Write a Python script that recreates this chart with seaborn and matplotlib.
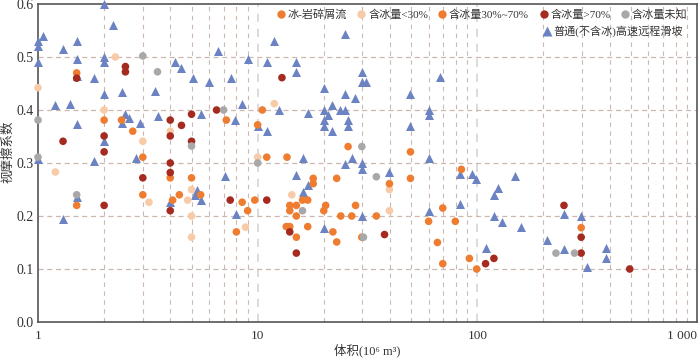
import numpy as np
import pandas as pd
import matplotlib
matplotlib.use('Agg')
import matplotlib.pyplot as plt
from matplotlib.lines import Line2D
from matplotlib.ticker import FixedLocator, LogLocator, NullFormatter
import seaborn as sns

# volume (10^6 m^3) and apparent friction coefficient
landslide_vol = [2.0, 2.2, 1.05, 1.0, 1.0, 1.0, 1.3, 1.5, 1.5, 1.5, 2.0, 2.0, 1.8, 1.2, 1.4, 1.5,
                 2.0, 2.4, 2.5, 2.6, 2.4, 2.9, 2.0, 1.8, 2.8, 1.0, 3.4, 3.5, 4.2, 4.5, 5.1, 6.0,
                 6.6, 7.6, 5.5, 7.9, 7.1, 1.5, 1.3, 4.0, 5.3, 5.2, 5.5, 8.0, 11.9, 24.9, 9.0,
                 11.0, 14.9, 14.9, 29.8, 29.8, 31, 20, 24.9, 27.8, 49.6, 67.4, 8.5, 12.5, 10,
                 11, 16.9, 20, 20, 20, 20.9, 21.9, 21.9, 23.8, 24.9, 25.9, 25.9, 49.6, 60, 60,
                 16, 26.8, 24.9, 29.8, 29.8, 60, 14.9, 39.8, 16.9, 83.4, 95, 99, 149, 124, 119,
                 83.7, 119, 129, 158, 208, 248, 297, 248, 316, 386, 386, 109.5, 16, 20, 29.8, 60.5]
landslide_mu = [0.60, 0.56, 0.54, 0.53, 0.52, 0.49, 0.515, 0.53, 0.497, 0.465, 0.50, 0.49, 0.46,
                0.41, 0.412, 0.373, 0.43, 0.434, 0.393, 0.384, 0.375, 0.376, 0.341, 0.304, 0.31,
                0.308, 0.436, 0.389, 0.49, 0.48, 0.461, 0.452, 0.512, 0.461, 0.392, 0.381, 0.275,
                0.235, 0.195, 0.226, 0.25, 0.239, 0.23, 0.203, 0.53, 0.543, 0.496, 0.491, 0.491,
                0.471, 0.471, 0.452, 0.452, 0.441, 0.431, 0.422, 0.431, 0.463, 0.411, 0.40, 0.37,
                0.36, 0.394, 0.40, 0.381, 0.37, 0.39, 0.41, 0.36, 0.40, 0.40, 0.381, 0.37, 0.37,
                0.40, 0.39, 0.309, 0.31, 0.299, 0.30, 0.289, 0.31, 0.278, 0.283, 0.258, 0.28,
                0.28, 0.27, 0.275, 0.252, 0.24, 0.222, 0.20, 0.189, 0.179, 0.155, 0.204, 0.20,
                0.138, 0.104, 0.139, 0.12, 0.139, 0.246, 0.177, 0.20, 0.209]

low_vol = [1.0, 1.2, 2.25, 2.0, 3.0, 4.0, 3.2, 4.8, 5, 5, 5, 11.9, 10, 14.3, 8.8, 39.8, 39.8]
low_mu = [0.442, 0.283, 0.50, 0.40, 0.341, 0.36, 0.226, 0.23, 0.25, 0.20, 0.16, 0.412, 0.311,
          0.24, 0.179, 0.25, 0.21]

mid_vol = [1.5, 2.0, 2.4, 2.7, 3.0, 4.0, 5.0, 7.2, 1.5, 3.0, 4.1, 4.4, 5.5, 8.0, 10.5, 10, 25.8,
           49.6, 11, 13.6, 17.9, 17.9, 22.9, 39.8, 49.6, 84.6, 8.5, 9.7, 9.0, 14, 14, 15, 16,
           16.9, 15, 13.5, 14, 15, 16.9, 20, 20.4, 22, 22.9, 23.9, 26.8, 27.9, 29.8, 34.7, 60,
           69.6, 65.8, 69.6, 79.4, 92, 99.3, 297]
mid_mu = [0.47, 0.381, 0.381, 0.36, 0.311, 0.272, 0.272, 0.381, 0.22, 0.24, 0.23, 0.24, 0.24,
          0.17, 0.40, 0.372, 0.331, 0.321, 0.311, 0.311, 0.271, 0.261, 0.271, 0.261, 0.271,
          0.288, 0.226, 0.23, 0.21, 0.22, 0.21, 0.22, 0.23, 0.23, 0.20, 0.18, 0.18, 0.16, 0.18,
          0.21, 0.22, 0.17, 0.151, 0.20, 0.20, 0.22, 0.16, 0.20, 0.19, 0.215, 0.15, 0.11, 0.19,
          0.12, 0.10, 0.178]

high_vol = [1.3, 2.5, 2.5, 1.5, 2.0, 2.0, 3.0, 4.0, 4.0, 4.0, 4.0, 4.5, 5.0, 5.0, 6.5, 2.0, 4.0,
            7.5, 12.9, 11, 14, 15, 37.8, 248, 297, 297, 494, 109, 119]
high_mu = [0.341, 0.482, 0.472, 0.46, 0.351, 0.321, 0.272, 0.381, 0.351, 0.30, 0.282, 0.371,
           0.392, 0.341, 0.40, 0.22, 0.21, 0.23, 0.461, 0.23, 0.17, 0.13, 0.165, 0.22, 0.16,
           0.13, 0.10, 0.11, 0.12]

unk_vol = [1.0, 1.0, 1.5, 3.0, 3.5, 5.0, 7.0, 10, 29.8, 34.7, 16, 30.3, 228, 277]
unk_mu = [0.381, 0.311, 0.24, 0.502, 0.472, 0.332, 0.40, 0.30, 0.331, 0.274, 0.21, 0.16, 0.13, 0.13]

groups = ['含冰量<30%', '含冰量30%~70%', '含冰量>70%', '含冰量未知', '普通(不含冰)高速远程滑坡']
colors = {'冰-岩碎屑流': '#ee7d31', '含冰量<30%': '#f8cba8', '含冰量30%~70%': '#ee7d31',
          '含冰量>70%': '#a52a20', '含冰量未知': '#a8a8a8', '普通(不含冰)高速远程滑坡': '#6b83c2'}

df = pd.concat([
    pd.DataFrame({'vol': low_vol, 'mu': low_mu, 'group': groups[0]}),
    pd.DataFrame({'vol': mid_vol, 'mu': mid_mu, 'group': groups[1]}),
    pd.DataFrame({'vol': high_vol, 'mu': high_mu, 'group': groups[2]}),
    pd.DataFrame({'vol': unk_vol, 'mu': unk_mu, 'group': groups[3]}),
], ignore_index=True)
df_ls = pd.DataFrame({'vol': landslide_vol, 'mu': landslide_mu, 'group': groups[4]})

sns.set_theme(style='white')
plt.rcParams['font.family'] = ['Liberation Serif', 'Noto Sans CJK SC', 'DejaVu Sans']
plt.rcParams['axes.unicode_minus'] = False

fig = plt.figure(figsize=(7, 3.61), dpi=100)
ax = fig.add_axes([38 / 700, 1 - 322 / 361, 659 / 700, 318 / 361])

sns.scatterplot(data=df_ls, x='vol', y='mu', color=colors[groups[4]], marker='^', s=42,
                linewidth=0, ax=ax, legend=False, zorder=3, clip_on=False)
sns.scatterplot(data=df, x='vol', y='mu', hue='group', palette=colors, hue_order=groups[:4],
                s=30, linewidth=0, ax=ax, legend=False, zorder=4, clip_on=False)

ax.set_xscale('log')
ax.set_xlim(1, 1000)
ax.set_ylim(0, 0.6)

grid_c = '#cdb8b0'
ax.xaxis.set_major_locator(FixedLocator([1, 10, 100, 1000]))
ax.xaxis.set_minor_locator(LogLocator(base=10, subs=np.arange(2, 10)))
ax.xaxis.set_minor_formatter(NullFormatter())
ax.set_xticklabels(['1', '10', '100', '1 000'])
ax.get_xticklabels()[-1].set_ha('right')
ax.set_yticks([0, 0.1, 0.2, 0.3, 0.4, 0.5, 0.6])
ax.set_yticklabels(['0.0', '0.1', '0.2', '0.3', '0.4', '0.5', '0.6'])

ax.grid(False)
for v in [10, 100]:
    ax.axvline(v, color='#d6d6d6', lw=1.2, ls=(0, (5, 4)), zorder=1)
for d in [1, 10, 100]:
    for m in range(2, 10):
        ax.axvline(d * m, color=grid_c, lw=0.8, ls=(0, (4, 4)), zorder=1)
for h in [0.1, 0.2, 0.3, 0.4, 0.5]:
    ax.axhline(h, color=grid_c, lw=0.9, ls=(0, (4, 3)), zorder=1)

ax.tick_params(axis='x', which='minor', direction='in', length=2.5, width=0.6, color='#888888', bottom=True)
ax.tick_params(axis='x', which='major', direction='in', length=0, labelsize=9.5, pad=6, colors='#333333')
ax.tick_params(axis='y', length=0, labelsize=10, pad=3, colors='#333333')

for sp in ax.spines.values():
    sp.set_color('#555555')
    sp.set_linewidth(1.2)
    sp.set_zorder(2)

ax.set_xlabel('')
ax.set_ylabel('')
fig.text(367 / 700, 1 - 350 / 361, '体积(10⁶ m³)', fontsize=9, color='#333333',
         ha='center', va='center')
fig.text(8 / 700, 1 - 152 / 361, '视摩擦系数', fontsize=9, color='#333333',
         ha='center', va='center', rotation=90)

# legend: first row of five entries, second row with one entry
row1 = ['冰-岩碎屑流'] + groups[:4]
h1 = [Line2D([], [], ls='', marker='o', ms=6, mfc=colors[g], mec='none') for g in row1]
leg1 = ax.legend(h1, row1, ncol=5, loc='upper right', bbox_to_anchor=(0.995, 1.005), frameon=False,
                 fontsize=8, handlelength=0.6, handletextpad=0.3, columnspacing=1.0,
                 borderaxespad=0.2, labelcolor='#333333')
ax.add_artist(leg1)
h2 = [Line2D([], [], ls='', marker='^', ms=7, mfc=colors[groups[4]], mec='none')]
ax.legend(h2, [groups[4]], loc='upper left', bbox_to_anchor=(0.757, 0.955), frameon=False,
          fontsize=8, handlelength=0.6, handletextpad=0.3, borderaxespad=0.2,
          labelcolor='#333333')

fig.savefig('out.png', dpi=100)
